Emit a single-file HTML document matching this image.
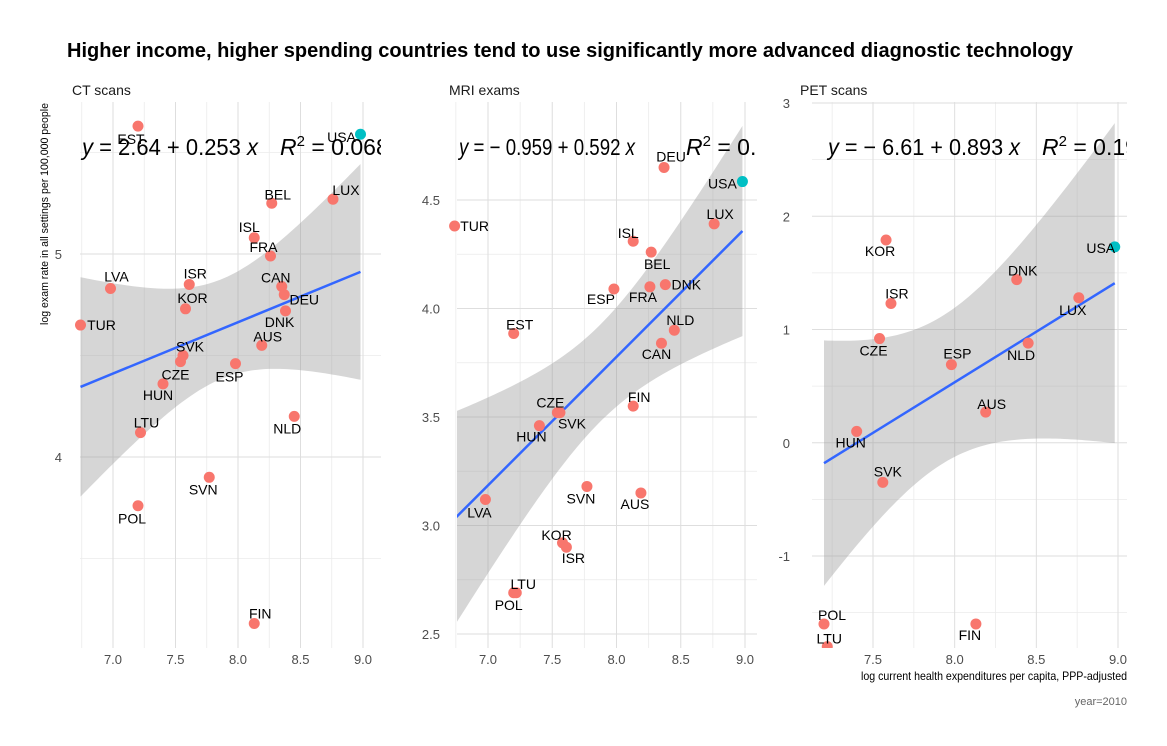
<!DOCTYPE html>
<html><head><meta charset="utf-8">
<style>
html,body{margin:0;padding:0;background:#fff;}
svg{display:block;font-family:"Liberation Sans Narrow","Liberation Sans",sans-serif;}
.lbl{font-family:"Liberation Sans",sans-serif;font-size:14px;fill:#000;text-anchor:middle;}
.tick{font-size:13px;fill:#4d4d4d;}
</style></head>
<body>
<svg id="chart" width="1167" height="746" viewBox="0 0 1167 746" xmlns="http://www.w3.org/2000/svg">
<text x="67" y="57" font-size="20" font-weight="bold" fill="#000" textLength="1006" lengthAdjust="spacingAndGlyphs">Higher income, higher spending countries tend to use significantly more advanced diagnostic technology</text>
<text transform="translate(48,214) rotate(-90)" font-size="11" fill="#000" text-anchor="middle" textLength="222" lengthAdjust="spacingAndGlyphs">log exam rate in all settings per 100,000 people</text>
<text x="1127" y="680" font-size="12" fill="#000" text-anchor="end" textLength="266" lengthAdjust="spacingAndGlyphs">log current health expenditures per capita, PPP-adjusted</text>
<text x="1127" y="705" font-size="11" fill="#666" text-anchor="end">year=2010</text>
</svg>
<script>
const countries = ["TUR","LVA","EST","POL","LTU","HUN","CZE","SVK","KOR","ISR","SVN","ESP","ISL","FIN","AUS","BEL","FRA","CAN","DEU","DNK","NLD","LUX","USA"];
const spending  = [6.74,6.98,7.20,7.20,7.22,7.40,7.54,7.56,7.58,7.61,7.77,7.98,8.13,8.13,8.19,8.27,8.26,8.35,8.37,8.38,8.45,8.76,8.98];
const ctRate    = [4.65,4.83,5.63,3.76,4.12,4.36,4.47,4.50,4.73,4.85,3.90,4.46,5.08,3.18,4.55,5.25,4.99,4.84,4.80,4.72,4.20,5.27,5.59];
const mriRate   = [4.38,3.12,3.885,2.69,2.69,3.46,3.52,3.52,2.92,2.90,3.18,4.09,4.31,3.55,3.15,4.26,4.10,3.84,4.65,4.11,3.90,4.39,4.585];
const petRate   = [null,null,null,-1.60,-1.80,0.10,0.92,-0.35,1.79,1.23,null,0.69,null,-1.60,0.27,null,null,null,null,1.44,0.88,1.28,1.73];
const panelNames = ["CT scans","MRI exams","PET scans"];
const intercepts = [2.64,-0.959,-6.61];
const slopes = [0.253,0.592,0.893];
const eqLabels = ["2.64 + 0.253", "\u2212 0.959 + 0.592", "\u2212 6.61 + 0.893"];
const r2Labels = ["0.0682","0.359","0.195"];
const xTicks = [[7,7.5,8,8.5,9],[7,7.5,8,8.5,9],[7.5,8,8.5,9]];
const xMinor = [[6.75,7.25,7.75,8.25,8.75],[6.75,7.25,7.75,8.25,8.75],[7.25,7.75,8.25,8.75]];
const yTicks = [[4,5],[2.5,3,3.5,4,4.5],[-1,0,1,2,3]];
const yTickLabels = [["4","5"],["2.5","3.0","3.5","4.0","4.5"],["-1","0","1","2","3"]];
const yMinor = [[3.5,4.5,5.5],[2.75,3.25,3.75,4.25],[-1.5,-0.5,0.5,1.5,2.5]];
const tCrit = [2.08,2.08,2.18];
// layout (not data)
const panels = [
 {L:80,R:381,T:102,B:648,xa:7,xpa:113,xb:9,xpb:363,ya:5,ypa:254,yb:4,ypb:457,stripX:72,eqX:82,eqW:176,rX:280,tickX:62},
 {L:457,R:757,T:102,B:648,xa:7,xpa:488,xb:9,xpb:745,ya:4.5,ypa:200,yb:2.5,ypb:634,stripX:449,eqX:459,eqW:176,rX:686,tickX:440},
 {L:812,R:1127,T:102,B:648,xa:7.5,xpa:873,xb:9,xpb:1118,ya:3,ypa:103,yb:-1,ypb:556,stripX:800,eqX:828,eqW:192,rX:1042,tickX:790}
];
const labelOffsets = [
 {EST:[-7,13],USA:[-19,3],BEL:[6,-9],LUX:[13,-9],ISL:[-5,-11],FRA:[-7,-9],LVA:[6,-12],ISR:[6,-11],CAN:[-6,-9],DEU:[20,5],KOR:[7,-11],DNK:[-6,11],TUR:[21,0],AUS:[6,-9],SVK:[7,-9],ESP:[-6,13],CZE:[-5,13],HUN:[-5,11],NLD:[-7,12],LTU:[6,-10],SVN:[-6,12],POL:[-6,13],FIN:[6,-10]},
 {DEU:[7,-11],USA:[-20,2],TUR:[20,0],LUX:[6,-10],ISL:[-5,-8],BEL:[6,12],ESP:[-13,10],FRA:[-7,10],DNK:[21,0],EST:[6,-9],NLD:[6,-10],CAN:[-5,11],CZE:[-7,-10],SVK:[12,11],HUN:[-8,11],FIN:[6,-9],SVN:[-6,12],AUS:[-6,11],LVA:[-6,13],KOR:[-6,-8],ISR:[7,11],LTU:[7,-9],POL:[-5,12]},
 {KOR:[-6,11],USA:[-14,1],DNK:[6,-9],LUX:[-6,12],ISR:[6,-10],CZE:[-6,12],NLD:[-7,12],ESP:[6,-11],AUS:[6,-8],HUN:[-6,11],SVK:[5,-11],POL:[8,-9],LTU:[2,-8],FIN:[-6,11]}
];
const series = [ctRate, mriRate, petRate];
const NS = "http://www.w3.org/2000/svg";
const svg = document.getElementById("chart");
function mk(tag, attrs, parent){ const e=document.createElementNS(NS,tag); for(const k in attrs) e.setAttribute(k,attrs[k]); (parent||svg).appendChild(e); return e; }
const defs = mk("defs",{});
panels.forEach((P,pi)=>{
  const sx = v => P.xpa + (v-P.xa)*(P.xpb-P.xpa)/(P.xb-P.xa);
  const sy = v => P.ypa + (v-P.ya)*(P.ypb-P.ypa)/(P.yb-P.ya);
  const cp = mk("clipPath",{id:"clip"+pi},defs);
  mk("rect",{x:P.L,y:P.T,width:P.R-P.L,height:P.B-P.T},cp);
  const cpp = mk("clipPath",{id:"clipp"+pi},defs);
  mk("rect",{x:P.L-20,y:P.T-20,width:P.R-P.L+40,height:P.B-P.T+20},cpp);
  const g = mk("g",{});
  
  
  const strip = mk("text",{x:P.stripX,y:95,"font-size":14,fill:"#1a1a1a"},g);
  strip.textContent = panelNames[pi];
  
  
  xMinor[pi].forEach(v=>mk("line",{x1:sx(v),x2:sx(v),y1:P.T,y2:P.B,stroke:"#ebebeb","stroke-width":0.8},g));
  yMinor[pi].forEach(v=>{ if(sy(v)>P.T&&sy(v)<P.B) mk("line",{x1:P.L,x2:P.R,y1:sy(v),y2:sy(v),stroke:"#ebebeb","stroke-width":0.8},g);});
  xTicks[pi].forEach(v=>{
    mk("line",{x1:sx(v),x2:sx(v),y1:P.T,y2:P.B,stroke:"#dedede","stroke-width":1},g);
    const t=mk("text",{x:sx(v),y:664,"text-anchor":"middle",class:"tick"},g); t.textContent=v.toFixed(1);
    
    
  });
  yTicks[pi].forEach((v,i)=>{
    mk("line",{x1:P.L,x2:P.R,y1:sy(v),y2:sy(v),stroke:"#dedede","stroke-width":1},g);
    const t=mk("text",{x:P.tickX,y:sy(v)+5,"text-anchor":"end",class:"tick"},g); t.textContent=yTickLabels[pi][i];
    
    
  });
  const ys = series[pi], xs=[], yy=[], names=[];
  countries.forEach((c,i)=>{ if(ys[i]!==null){xs.push(spending[i]);yy.push(ys[i]);names.push(c);} });
  const n=xs.length, a=intercepts[pi], b=slopes[pi];
  const xbar=xs.reduce((s,v)=>s+v,0)/n;
  const sxx=xs.reduce((s,v)=>s+(v-xbar)**2,0);
  const sse=xs.reduce((s,v,i)=>s+(yy[i]-a-b*v)**2,0);
  const sd=Math.sqrt(sse/(n-2));
  const x0=Math.min(...xs), x1=Math.max(...xs);
  const up=[], lo=[];
  for(let k=0;k<=80;k++){ const x=x0+(x1-x0)*k/80; const f=a+b*x; const h=tCrit[pi]*sd*Math.sqrt(1/n+(x-xbar)**2/sxx);
    up.push(sx(x)+","+sy(f+h)); lo.unshift(sx(x)+","+sy(f-h)); }
  const band=mk("polygon",{points:up.concat(lo).join(" "),fill:"#999",opacity:0.4,"clip-path":"url(#clip"+pi+")"},g);
  
  
  const line=mk("line",{x1:sx(x0),y1:sy(a+b*x0),x2:sx(x1),y2:sy(a+b*x1),stroke:"#3366FF","stroke-width":2.5,"clip-path":"url(#clip"+pi+")"},g);
  
  
  names.forEach((c,i)=>{
    const dot=mk("circle",{cx:sx(xs[i]),cy:sy(yy[i]),r:5.5,fill:c==="USA"?"#00BFC4":"#F8766D","clip-path":"url(#clipp"+pi+")"},g);
    
    
  });
  names.forEach((c,i)=>{
    const o=labelOffsets[pi][c]||[0,-10];
    const t=mk("text",{x:sx(xs[i])+o[0],y:sy(yy[i])+o[1]+5,class:"lbl"},g); t.textContent=c;
    
    
  });
  const eg = mk("g",{"clip-path":"url(#clip"+pi+")"},g);
  
  
  const eq=mk("text",{x:P.eqX,y:155,"font-size":23,"font-family":"Liberation Sans, sans-serif",fill:"#000",textLength:P.eqW,lengthAdjust:"spacingAndGlyphs"},eg);
  eq.innerHTML = '<tspan font-style="italic">y</tspan> = '+eqLabels[pi]+' <tspan font-style="italic">x</tspan>';
  const r2=mk("text",{x:P.rX,y:155,"font-size":23,"font-family":"Liberation Sans, sans-serif",fill:"#000"},eg);
  r2.innerHTML = '<tspan font-style="italic">R</tspan><tspan dy="-9" font-size="15">2</tspan><tspan dy="9"> = '+r2Labels[pi]+'</tspan>';
});
</script>
</body></html>
